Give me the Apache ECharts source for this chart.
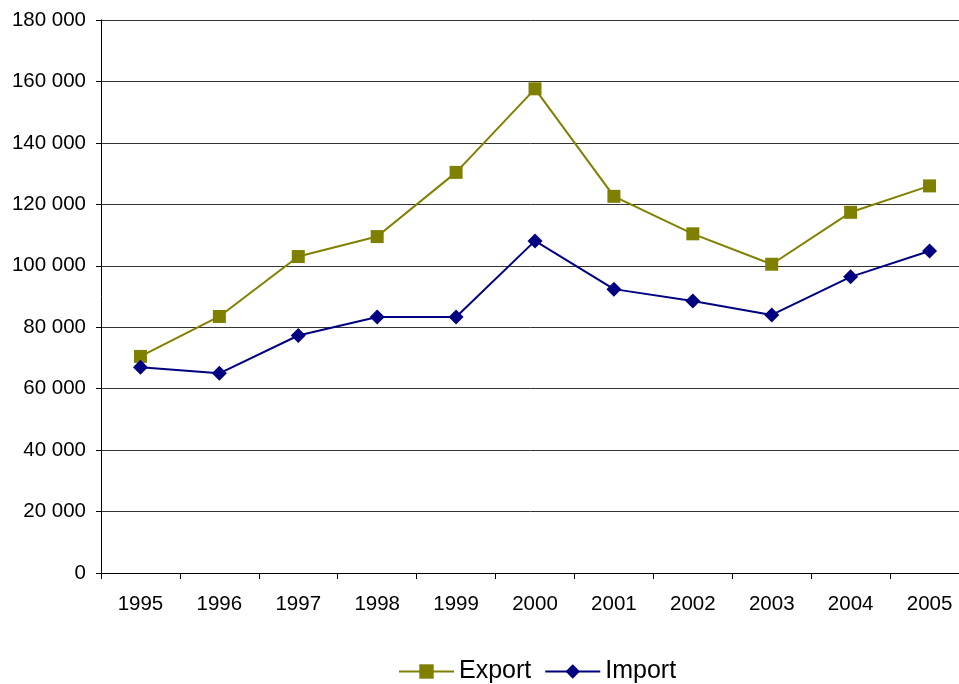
<!DOCTYPE html>
<html>
<head>
<meta charset="utf-8">
<script src="https://cdn.jsdelivr.net/npm/echarts@6/dist/echarts.min.js"></script>
<style>
html,body{margin:0;padding:0;background:#fff;}
#c{width:959px;height:684px;}
</style>
</head>
<body>
<div id="c"></div>
<script>
const years = ['1995','1996','1997','1998','1999','2000','2001','2002','2003','2004','2005'];
const exportValues = [70500, 83500, 103000, 109500, 130400, 157600, 122600, 110400, 100500, 117400, 126000];
const importValues = [67000, 65000, 77300, 83300, 83300, 108100, 92400, 88500, 84000, 96400, 104800];
const yTicks = [0, 20000, 40000, 60000, 80000, 100000, 120000, 140000, 160000, 180000];

function fmt(v){
  return String(v).replace(/\B(?=(\d{3})+(?!\d))/g, ' ');
}

const chart = echarts.init(document.getElementById('c'), null, {renderer:'canvas'});
chart.setOption({
  animation:false,
  backgroundColor:'#fff',
  textStyle:{fontFamily:'Liberation Sans, Arial, sans-serif'},
  grid:{left:101, top:20, width:868, height:553, containLabel:false, outerBoundsMode:'none'},
  legend:{
    left:393, top:654,
    itemWidth:55, itemHeight:18, itemGap:13,
    textStyle:{fontSize:25, color:'#000', fontFamily:'Liberation Sans, Arial, sans-serif'},
    data:['Export','Import']
  },
  xAxis:{
    type:'category',
    data:years,
    boundaryGap:true,
    axisLine:{show:true, lineStyle:{color:'#000', width:1}},
    axisTick:{show:true, length:6, lineStyle:{color:'#000'}},
    axisLabel:{fontSize:20.5, color:'#000', margin:21, fontFamily:'Liberation Sans, Arial, sans-serif'},
    splitLine:{show:false}
  },
  yAxis:{
    type:'value',
    min:yTicks[0], max:yTicks[yTicks.length-1], interval:yTicks[1]-yTicks[0],
    axisLine:{show:true, lineStyle:{color:'#000', width:1}},
    axisTick:{show:true, length:5, lineStyle:{color:'#000'}},
    axisLabel:{fontSize:20.5, color:'#000', margin:15, formatter:fmt, fontFamily:'Liberation Sans, Arial, sans-serif'},
    splitLine:{show:true, lineStyle:{color:'#333', width:1}}
  },
  series:[
    {
      name:'Export', type:'line', data:exportValues,
      symbol:'rect', symbolSize:13,
      lineStyle:{color:'#808000', width:2},
      itemStyle:{color:'#808000'},
      color:'#808000'
    },
    {
      name:'Import', type:'line', data:importValues,
      symbol:'diamond', symbolSize:15,
      lineStyle:{color:'#000080', width:2},
      itemStyle:{color:'#000080'},
      color:'#000080'
    }
  ]
});
</script>
</body>
</html>
